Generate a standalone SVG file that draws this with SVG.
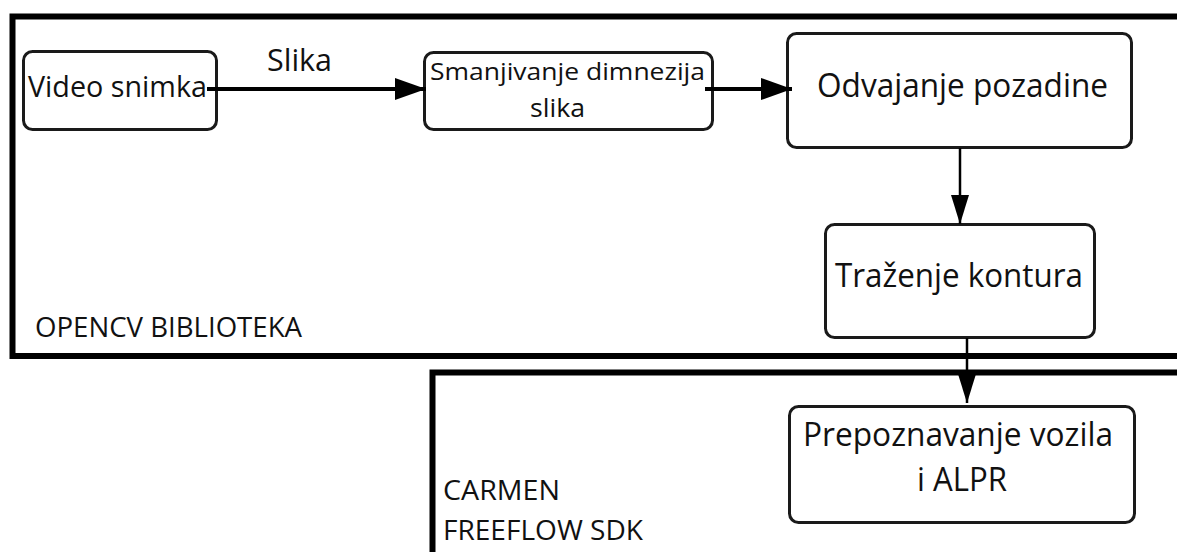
<svg xmlns="http://www.w3.org/2000/svg" width="1177" height="552" viewBox="0 0 1177 552">
<style>
.frame{fill:none;stroke:#000;stroke-width:6}
.box{fill:#fff;stroke:#1a1a1a;stroke-width:3}
.t{font-family:"Open Sans","Liberation Sans",sans-serif;fill:#111}
.c{text-anchor:middle}
.h{stroke:#000;stroke-width:4;fill:none}
.v{stroke:#000;stroke-width:2.5;fill:none}
</style>
<defs>
<marker id="ah" markerUnits="userSpaceOnUse" markerWidth="32" markerHeight="24" refX="31" refY="12" orient="auto">
<path d="M0,1 L31,12 L0,23 z" fill="#000"/>
</marker>
<marker id="av" markerUnits="userSpaceOnUse" markerWidth="30" markerHeight="20" refX="29" refY="10" orient="auto">
<path d="M0,1 L29,10 L0,19 z" fill="#000"/>
</marker>
</defs>
<rect width="1177" height="552" fill="#fff"/>
<g id="opencv">
<rect class="frame" x="12.5" y="16.5" width="1200" height="339.5"/>
<text class="t" x="35" y="337" font-size="27" textLength="267" lengthAdjust="spacingAndGlyphs">OPENCV BIBLIOTEKA</text>
</g>
<g id="carmen">
<rect class="frame" x="432.5" y="372.5" width="800" height="300"/>
<text class="t" x="443" y="500" font-size="27" textLength="117" lengthAdjust="spacingAndGlyphs">CARMEN</text>
<text class="t" x="443" y="540" font-size="27" textLength="200" lengthAdjust="spacingAndGlyphs">FREEFLOW SDK</text>
</g>
<g id="video">
<rect class="box" x="23.5" y="51.5" width="193" height="78" rx="9"/>
<text class="t" x="28" y="97" font-size="30" textLength="179" lengthAdjust="spacingAndGlyphs">Video snimka</text>
</g>
<g id="smanjivanje">
<rect class="box" x="424.5" y="52.5" width="288" height="77" rx="9"/>
<text class="t" x="430" y="80" font-size="24" textLength="275" lengthAdjust="spacingAndGlyphs">Smanjivanje dimnezija</text>
<text class="t" x="530" y="117" font-size="25" textLength="55" lengthAdjust="spacingAndGlyphs">slika</text>
</g>
<g id="odvajanje">
<rect class="box" x="787.5" y="33.5" width="344" height="114" rx="9"/>
<text class="t" x="817" y="97" font-size="32" textLength="291" lengthAdjust="spacingAndGlyphs">Odvajanje pozadine</text>
</g>
<g id="trazenje">
<rect class="box" x="825.5" y="224.5" width="269" height="113" rx="9"/>
<text class="t" x="835" y="287" font-size="32" textLength="248" lengthAdjust="spacingAndGlyphs">Traženje kontura</text>
</g>
<g id="prepoznavanje">
<rect class="box" x="789.5" y="406.5" width="345" height="116" rx="9"/>
<text class="t" x="803" y="446" font-size="32" textLength="310" lengthAdjust="spacingAndGlyphs">Prepoznavanje vozila</text>
<text class="t" x="917" y="491" font-size="32" textLength="90" lengthAdjust="spacingAndGlyphs">i ALPR</text>
</g>
<g id="connectors">
<line class="h" x1="207" y1="89" x2="426" y2="89" marker-end="url(#ah)"/>
<text class="t" x="267" y="71" font-size="31" textLength="65" lengthAdjust="spacingAndGlyphs">Slika</text>
<line class="h" x1="705" y1="89" x2="792" y2="89" marker-end="url(#ah)"/>
<line class="v" x1="960" y1="148" x2="960" y2="224" marker-end="url(#av)"/>
<line class="v" x1="967" y1="338" x2="967" y2="403" marker-end="url(#av)"/>
</g>
</svg>
